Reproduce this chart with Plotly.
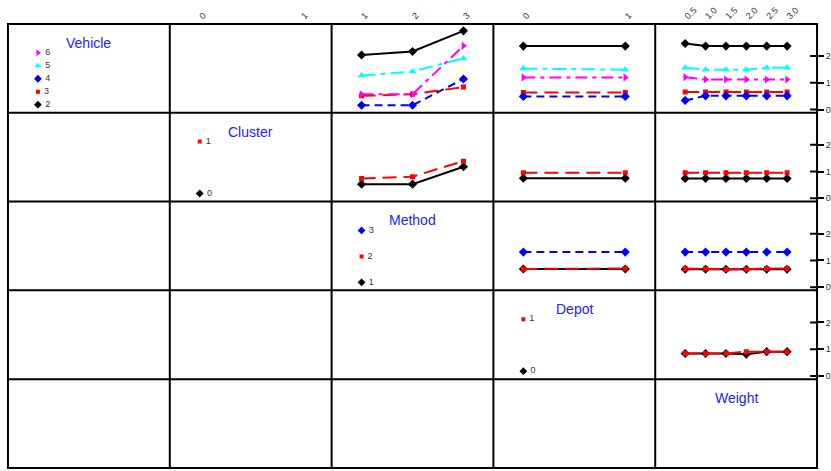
import numpy as np
import plotly.graph_objects as go

# ---------------- data ----------------
vehicle_levels = [2, 3, 4, 5, 6]
cluster_levels = [0, 1]
method_levels = [1, 2, 3]
depot_levels = [0, 1]
weight_levels = [0.5, 1.0, 1.5, 2.0, 2.5, 3.0]
weight_ticktext = ["0.5", "1.0", "1.5", "2.0", "2.5", "3.0"]

# Vehicle traces
veh_by_method = {
    2: [2.04, 2.17, 2.94],
    3: [0.51, 0.57, 0.84],
    4: [0.16, 0.16, 1.14],
    5: [1.27, 1.42, 1.91],
    6: [0.57, 0.57, 2.38],
}
veh_by_depot = {
    2: [2.37, 2.37],
    3: [0.64, 0.64],
    4: [0.49, 0.49],
    5: [1.53, 1.49],
    6: [1.20, 1.20],
}
veh_by_weight = {
    2: [2.47, 2.37, 2.37, 2.37, 2.37, 2.37],
    3: [0.65, 0.65, 0.65, 0.65, 0.65, 0.65],
    4: [0.34, 0.51, 0.51, 0.51, 0.51, 0.51],
    5: [1.56, 1.49, 1.49, 1.49, 1.56, 1.56],
    6: [1.21, 1.12, 1.12, 1.12, 1.12, 1.12],
}
# Cluster traces
clu_by_method = {0: [0.53, 0.53, 1.18], 1: [0.74, 0.81, 1.39]}
clu_by_depot = {0: [0.75, 0.75], 1: [0.96, 0.96]}
clu_by_weight = {0: [0.74, 0.74, 0.74, 0.74, 0.74, 0.74],
                 1: [0.96, 0.96, 0.96, 0.96, 0.96, 0.96]}
# Method traces
met_by_depot = {1: [0.68, 0.68], 2: [0.68, 0.70], 3: [1.31, 1.31]}
met_by_weight = {1: [0.67, 0.67, 0.67, 0.67, 0.67, 0.67],
                 2: [0.70, 0.68, 0.66, 0.67, 0.70, 0.70],
                 3: [1.31, 1.31, 1.31, 1.31, 1.31, 1.31]}
# Depot traces
dep_by_weight = {0: [0.84, 0.84, 0.84, 0.81, 0.91, 0.91],
                 1: [0.84, 0.84, 0.84, 0.91, 0.91, 0.91]}

factor_names = ["Vehicle", "Cluster", "Method", "Depot", "Weight"]
factor_levels = [vehicle_levels, cluster_levels, method_levels, depot_levels, weight_levels]

# ---------------- styles ----------------
colors = ["#000000", "#ff0000", "#0000ff", "#00ffff", "#ff00ff"]
symbols = ["diamond", "square", "diamond", "triangle-up", "triangle-right"]
msizes = [7, 5, 7, 7, 7]
dashes = ["solid", "14px,7px", "8px,5px", "14px,5px,5px,5px", "12px,5px,4px,5px"]

W, H = 831, 471
L, R, T, B = 8, 820, 24, 470
col_edges = np.linspace(L, R, 6)
row_edges = np.linspace(T, B, 6)
YR = [-0.12, 3.2]
FONT = "Liberation Sans, Arial"

fig = go.Figure()


def ax_idx(r, c):
    return r * 5 + c + 1


def axname(prefix, i):
    return prefix if i == 1 else f"{prefix}{i}"


def xrange_for(levels):
    lo, hi = min(levels), max(levels)
    pad = 0.294 * (hi - lo)
    return [lo - pad, hi + pad]


layout_axes = {}
for r in range(5):
    for c in range(5):
        i = ax_idx(r, c)
        xd = [col_edges[c] / W, col_edges[c + 1] / W]
        yd = [1 - row_edges[r + 1] / H, 1 - row_edges[r] / H]
        xa = dict(domain=xd, anchor=axname("y", i), range=xrange_for(factor_levels[c]),
                  showline=False, showgrid=False, zeroline=False, ticks="",
                  showticklabels=False, fixedrange=True)
        ya = dict(domain=yd, anchor=axname("x", i), range=YR,
                  showline=False, showgrid=False, zeroline=False, ticks="",
                  showticklabels=False, fixedrange=True)
        if r == 0 and c >= 1:
            lv = factor_levels[c]
            xa.update(side="top", showticklabels=True, tickvals=lv,
                      ticktext=weight_ticktext if c == 4 else [str(v) for v in lv],
                      tickangle=-45, ticklabelstandoff=0,
                      tickfont=dict(size=9, color="#333333", family=FONT))
        if c == 4 and r <= 3:
            ya.update(side="right", showticklabels=True, tickvals=[0, 1, 2],
                      ticktext=["0", "1", "2"], ticks="outside", ticklen=6,
                      tickwidth=2, tickcolor="black",
                      tickfont=dict(size=9, color="#333333", family=FONT))
        layout_axes["xaxis" if i == 1 else f"xaxis{i}"] = xa
        layout_axes["yaxis" if i == 1 else f"yaxis{i}"] = ya
        # invisible placeholder so every cell's axes are drawn
        fig.add_trace(go.Scatter(x=[None], y=[None], mode="markers",
                                 xaxis=axname("x", i), yaxis=axname("y", i),
                                 showlegend=False, hoverinfo="skip"))

fig.update_layout(**layout_axes)


def add_series(r, c, xs, ys, k):
    i = ax_idx(r, c)
    fig.add_trace(go.Scatter(
        x=xs, y=ys, mode="lines+markers",
        line=dict(color=colors[k], width=2, dash=dashes[k]),
        marker=dict(symbol=symbols[k], size=msizes[k], color=colors[k]),
        xaxis=axname("x", i), yaxis=axname("y", i), showlegend=False,
        hoverinfo="skip"))


# Row 0: Vehicle traces
for k, v in enumerate(vehicle_levels):
    add_series(0, 2, method_levels, veh_by_method[v], k)
    add_series(0, 3, depot_levels, veh_by_depot[v], k)
    add_series(0, 4, weight_levels, veh_by_weight[v], k)
# Row 1: Cluster traces
for k, v in enumerate(cluster_levels):
    add_series(1, 2, method_levels, clu_by_method[v], k)
    add_series(1, 3, depot_levels, clu_by_depot[v], k)
    add_series(1, 4, weight_levels, clu_by_weight[v], k)
# Row 2: Method traces
for k, v in enumerate(method_levels):
    add_series(2, 3, depot_levels, met_by_depot[v], k)
    add_series(2, 4, weight_levels, met_by_weight[v], k)
# Row 3: Depot traces
for k, v in enumerate(depot_levels):
    add_series(3, 4, weight_levels, dep_by_weight[v], k)

# Diagonal legend cells
annotations = []
for d in range(5):
    i = ax_idx(d, d)
    cx = (col_edges[d] + col_edges[d + 1]) / 2
    ty = row_edges[d] + 19
    annotations.append(dict(
        text=factor_names[d], x=cx / W, y=1 - ty / H,
        xref="paper", yref="paper",
        showarrow=False, xanchor="center", yanchor="middle",
        font=dict(size=14, color="#2222ff", family=FONT)))
    if d == 4:
        continue
    lv = factor_levels[d]
    n = len(lv)
    ypos = np.linspace(0.18, 2.12, n)
    for k, v in enumerate(lv):
        fig.add_trace(go.Scatter(
            x=[lv[0]], y=[ypos[k]], mode="markers+text", text=[" " + str(v)],
            textposition="middle right",
            textfont=dict(size=9, color="#333333", family=FONT),
            marker=dict(symbol=symbols[k], size=msizes[k] - 1, color=colors[k]),
            xaxis=axname("x", i), yaxis=axname("y", i), showlegend=False,
            hoverinfo="skip"))

# Grid lines
shapes = []
for xe in col_edges:
    shapes.append(dict(type="line", xref="paper", yref="paper",
                       x0=xe / W, x1=xe / W, y0=1 - T / H, y1=1 - B / H,
                       line=dict(color="black", width=2)))
for ye in row_edges:
    shapes.append(dict(type="line", xref="paper", yref="paper",
                       x0=(L - 1) / W, x1=(R + 1) / W, y0=1 - ye / H, y1=1 - ye / H,
                       line=dict(color="black", width=2)))
# inner part of right-hand ticks
for r in range(4):
    i = ax_idx(r, 4)
    for tv in [0, 1, 2]:
        shapes.append(dict(type="line", xref="paper", yref=axname("y", i),
                           x0=(R - 7) / W, x1=R / W, y0=tv, y1=tv,
                           line=dict(color="black", width=2)))

fig.update_layout(
    width=W, height=H, margin=dict(l=0, r=0, t=0, b=0),
    paper_bgcolor="white", plot_bgcolor="white",
    shapes=shapes, annotations=annotations, showlegend=False,
    font=dict(family=FONT),
)

fig.write_html("out.html")
